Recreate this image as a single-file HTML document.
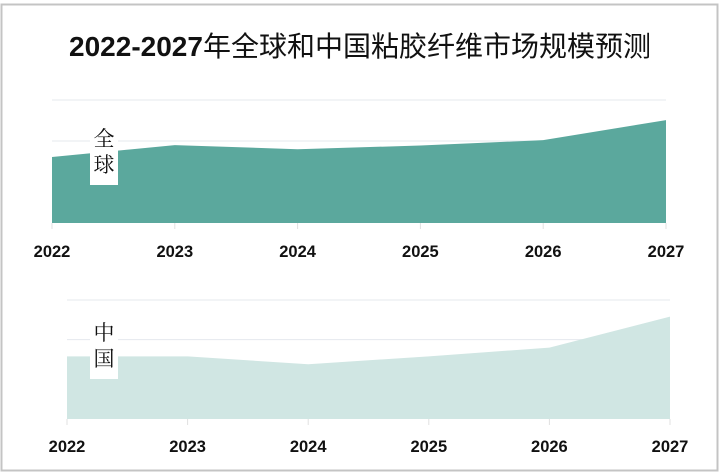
<!DOCTYPE html>
<html><head><meta charset="utf-8"><style>
html,body{margin:0;padding:0;background:#fff;}
svg{display:block;}
</style></head><body>
<svg id="c" width="720" height="474" xmlns="http://www.w3.org/2000/svg">
<rect x="1.5" y="4.5" width="716" height="466" fill="#fff" stroke="#c4c4c4" stroke-width="2"/>
<text x="360" y="56" text-anchor="middle" font-size="28" fill="#111" font-family="'Liberation Sans','Noto Sans CJK SC',sans-serif"><tspan font-weight="bold">2022-2027</tspan>年全球和中国粘胶纤维市场规模预测</text>
</svg>
<script>
const years = ['2022','2023','2024','2025','2026','2027'];
const globalValues = [16.1, 19.0, 18.0, 18.9, 20.2, 25.1];
const chinaValues = [15.8, 15.8, 13.8, 15.8, 18.0, 25.8];
const gridTicks = [0, 10, 20, 30];

const NS = 'http://www.w3.org/2000/svg';
const svg = document.getElementById('c');
function mk(tag, attrs){ const e=document.createElementNS(NS,tag); for(const k in attrs) e.setAttribute(k,attrs[k]); svg.appendChild(e); return e; }

function panel(cfg, values, label, color, prefix){
  const xs = i => cfg.x0 + (cfg.x1-cfg.x0)*i/(years.length-1);
  const ys = v => cfg.base - (cfg.base-cfg.top)*v/30;
  gridTicks.forEach(t=>{
    if(t===0) return;
    const g = mk('line',{x1:cfg.x0,x2:cfg.x1,y1:ys(t),y2:ys(t),stroke:'#e4e8ee','stroke-width':1});
    
    
  });
  let d = 'M'+xs(0)+','+cfg.base;
  values.forEach((v,i)=>{ d += ' L'+xs(i)+','+ys(v); });
  d += ' L'+xs(values.length-1)+','+cfg.base+' Z';
  const a = mk('path',{d:d,fill:color});
  
  
  years.forEach((y,i)=>{
    const tk = mk('line',{x1:xs(i),x2:xs(i),y1:cfg.base,y2:cfg.base+6,stroke:'#e0e0e0','stroke-width':1});
    
    
    const t = mk('text',{x:xs(i),y:cfg.labelY,'text-anchor':'middle','font-size':16.5,'font-weight':'bold',fill:'#111','font-family':"'Liberation Sans Narrow','Liberation Sans',sans-serif"});
    t.textContent = y;
    
    
  });
  const b = mk('rect',{x:cfg.lx,y:cfg.ly,width:28,height:61,fill:'#fff'});
  
  
  label.split('').forEach((ch,i)=>{
    const t = mk('text',{x:cfg.lx+14,y:cfg.ly+22+i*26,'text-anchor':'middle','font-size':21,fill:'#111','font-family':"'Liberation Serif','Noto Serif CJK SC',serif"});
    t.textContent = ch;
    
    
  });
}
panel({x0:52,x1:666,base:223,top:100,labelY:257,lx:90,ly:124}, globalValues, '全球', '#5ba89d', 'global');
panel({x0:67,x1:670,base:419,top:300,labelY:452,lx:90,ly:318}, chinaValues, '中国', '#d0e6e3', 'china');
</script>
</body></html>
